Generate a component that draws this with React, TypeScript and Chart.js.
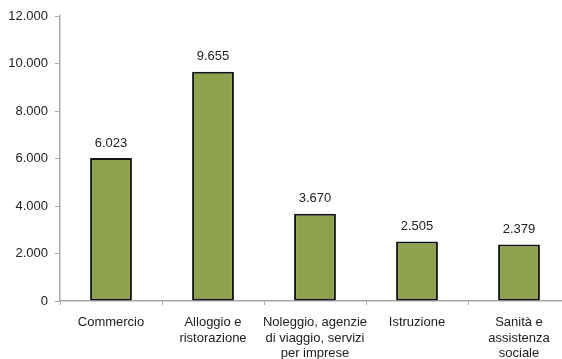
import React, { useEffect, useRef } from "react";
import { Chart, registerables } from "chart.js";

Chart.register(...registerables);

const categories: (string | string[])[] = [
  "Commercio",
  ["Alloggio e", "ristorazione"],
  ["Noleggio, agenzie", "di viaggio, servizi", "per imprese"],
  "Istruzione",
  ["Sanità e", "assistenza", "sociale"],
];

const values: number[] = [6023, 9655, 3670, 2505, 2379];

const yTicks: number[] = [0, 2000, 4000, 6000, 8000, 10000, 12000];

const fmt = (n: number): string =>
  Math.round(n)
    .toString()
    .replace(/\B(?=(\d{3})+(?!\d))/g, ".");

const FONT = "'Liberation Sans', Arial, sans-serif";
const TEXT = "#222222";

// Value labels above each bar
const valueLabels = {
  id: "valueLabels",
  afterDatasetsDraw(chart: any) {
    const ctx = chart.ctx;
    const meta = chart.getDatasetMeta(0);
    ctx.save();
    ctx.font = `13px ${FONT}`;
    ctx.fillStyle = TEXT;
    ctx.textAlign = "center";
    ctx.textBaseline = "middle";
    meta.data.forEach((bar: any, i: number) => {
      ctx.fillText(fmt(values[i]), bar.x, bar.y - 15);
    });
    ctx.restore();
  },
};

export default function App() {
  const ref = useRef<HTMLCanvasElement>(null);

  useEffect(() => {
    document.body.style.margin = "0";
    const canvas = ref.current;
    if (!canvas) return;
    const axisColor = "#a8a8a8";
    const chart = new Chart(canvas, {
      type: "bar",
      data: {
        labels: categories,
        datasets: [
          {
            data: values,
            backgroundColor: "#8ea24e",
            borderColor: "#141414",
            borderWidth: 2,
            borderSkipped: false,
            barPercentage: 0.41,
            categoryPercentage: 1,
          },
        ],
      },
      options: {
        responsive: false,
        animation: false,
        layout: { padding: { top: 16, right: 2, left: 0, bottom: 0 } },
        plugins: {
          legend: { display: false },
          tooltip: { enabled: false },
        },
        scales: {
          x: {
            grid: {
              display: true,
              drawOnChartArea: false,
              drawTicks: true,
              tickLength: 4,
              color: axisColor,
              offset: true,
            },
            border: { display: true, color: axisColor, width: 1.5 },
            ticks: {
              padding: 10,
              color: TEXT,
              font: { family: FONT, size: 13, lineHeight: 1.18 },
              maxRotation: 0,
              autoSkip: false,
            },
            afterFit: (scale: any) => {
              scale.height = 58;
            },
          },
          y: {
            min: 0,
            max: 12000,
            afterBuildTicks: (scale: any) => {
              scale.ticks = yTicks.map((v) => ({ value: v }));
            },
            grid: {
              display: true,
              drawOnChartArea: false,
              drawTicks: true,
              tickLength: 5,
              color: axisColor,
            },
            border: { display: true, color: axisColor, width: 1.5 },
            ticks: {
              padding: 7,
              color: TEXT,
              font: { family: FONT, size: 13 },
              callback: (v: any) => fmt(Number(v)),
            },
            afterFit: (scale: any) => {
              scale.width = 60;
            },
          },
        },
      },
      plugins: [valueLabels],
    });
    return () => chart.destroy();
  }, []);

  return (
    <div style={{ width: 562, height: 359, overflow: "hidden", background: "#fff" }}>
      <canvas ref={ref} width={572} height={359} />
    </div>
  );
}
